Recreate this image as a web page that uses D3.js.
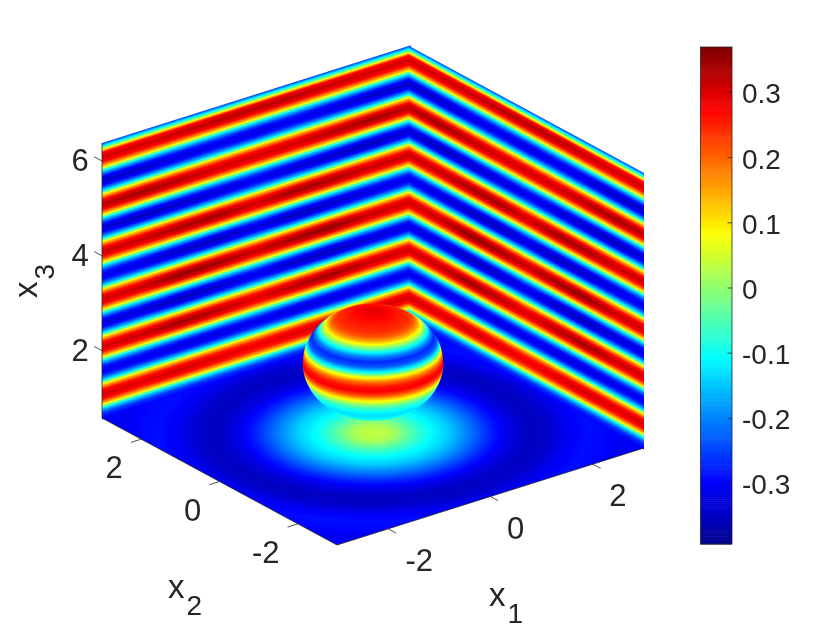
<!DOCTYPE html>
<html>
<head>
<meta charset="utf-8">
<script src="https://cdn.jsdelivr.net/npm/d3@7"></script>
<style>
  html, body { margin: 0; background: #fff; }
  #plot { position: relative; width: 840px; height: 630px; overflow: hidden; }
  #plot canvas, #plot svg { position: absolute; left: 0; top: 0; }
  text { font-family: "Liberation Sans", Arial, sans-serif; fill: #262626; }
</style>
</head>
<body>
<div id="plot"></div>
<script>
const WIDTH = 840, HEIGHT = 630

// axis limits and ticks
const x1Domain = [-3, 3]
const x2Domain = [-3, 3]
const x3Domain = [0.58, 6.38]
const x1Ticks = [-2, 0, 2]
const x2Ticks = [-2, 0, 2]
const x3Ticks = [2, 4, 6]
const colorTicks = [-0.3, -0.2, -0.1, 0, 0.1, 0.2, 0.3]
const colorDomain = [-0.3936, 0.369]
const jetStops = [0, 0.125, 0.375, 0.625, 0.875, 1]
const jetColors = ['#00008f', '#0000ff', '#00ffff', '#ffff00', '#ff0000', '#800000']

// wall field: both walls look the same and mirror around the middle
const wallS = [0, 0.75, 1.5, 2.25, 3]
const wallX3Step = 0.1
const wallField = [
  [-.30, -.30, -.30, -.30, -.30],
  [-.26, -.26, -.26, -.26, -.26],
  [-.14, -.14, -.14, -.14, -.14],
  [.12, .12, .12, .12, .12],
  [.25, .26, .27, .26, .27],
  [.29, .30, .31, .30, .31],
  [.25, .26, .27, .26, .27],
  [.12, .12, .12, .12, .12],
  [-.14, -.14, -.14, -.14, -.14],
  [-.27, -.28, -.28, -.27, -.27],
  [-.32, -.33, -.33, -.32, -.32],
  [-.27, -.28, -.28, -.27, -.27],
  [-.14, -.14, -.14, -.14, -.14],
  [.12, .12, .12, .12, .12],
  [.26, .28, .29, .27, .27],
  [.30, .33, .35, .32, .31],
  [.26, .28, .29, .27, .27],
  [.12, .12, .12, .12, .12],
  [-.14, -.14, -.14, -.14, -.14],
  [-.27, -.29, -.30, -.28, -.28],
  [-.32, -.35, -.36, -.34, -.33],
  [-.27, -.29, -.30, -.28, -.28],
  [-.14, -.14, -.14, -.14, -.14],
  [.12, .12, .12, .12, .12],
  [.27, .29, .30, .27, .27],
  [.32, .35, .36, .32, .31],
  [.27, .29, .30, .27, .27],
  [.12, .12, .12, .12, .12],
  [-.14, -.14, -.14, -.14, -.14],
  [-.28, -.30, -.29, -.28, -.27],
  [-.33, -.36, -.35, -.33, -.32],
  [-.28, -.30, -.29, -.28, -.27],
  [-.14, -.14, -.14, -.14, -.14],
  [.12, .12, .12, .12, .12],
  [.27, .29, .29, .27, .27],
  [.31, .35, .34, .32, .32],
  [.27, .29, .29, .27, .27],
  [.12, .12, .12, .12, .12],
  [-.14, -.14, -.14, -.14, -.14],
  [-.27, -.28, -.29, -.30, -.28],
  [-.32, -.34, -.35, -.36, -.34],
  [-.27, -.28, -.29, -.30, -.28],
  [-.14, -.14, -.14, -.14, -.14],
  [.12, .12, .12, .12, .12],
  [.27, .27, .28, .29, .28],
  [.31, .31, .33, .35, .33],
  [.27, .27, .28, .29, .28],
  [.12, .12, .12, .12, .12],
  [-.14, -.14, -.14, -.14, -.14],
  [-.28, -.27, -.28, -.29, -.29],
  [-.33, -.32, -.33, -.35, -.35],
  [-.28, -.27, -.28, -.29, -.29],
  [-.14, -.14, -.14, -.14, -.14],
  [.12, .12, .12, .12, .12],
  [.28, .28, .27, .27, .27],
  [.33, .33, .32, .31, .31],
  [.28, .28, .27, .27, .27],
  [-.03, -.03, -.03, -.03, -.03],
  [-.26, -.26, -.26, -.26, -.26]
]

// floor field against distance from the axis
const floorRadius = [0, 0.3, 0.6, 0.85, 1.2, 1.5, 1.8, 2.1, 2.4, 2.7, 3.0, 3.3, 3.6, 3.9, 4.25]
const floorField = [.04, .02, -.05, -.10, -.15, -.21, -.27, -.32, -.35, -.345, -.31, -.29, -.295, -.31, -.30]

// sphere field against latitude
const sphereLat = [-90, -85, -80, -75, -70, -65, -60, -55, -50, -45, -40, -35, -30, -25, -20, -15, -10, -5, 0,
  5, 10, 15, 20, 25, 30, 35, 40, 45, 50, 55, 60, 65, 70, 75, 80, 85, 90]
const sphereField = [.08, .08, .08, .08, .08, .08, .07, .04, -.04, -.09, -.12, -.13, -.12, -.09, -.05, .02, .11, .21, .28,
  .26, .19, .07, -.11, -.23, -.27, -.20, -.09, .03, .14, .21, .24, .25, .26, .27, .28, .29, .29]
const sphereCenter = [0, 0, 2.06]
const sphereRadius = 1.09

// projection of the data box to the page, front lower corner is the origin
const ORIGIN = [337, 545]
const x1ToX = d3.scaleLinear().domain(x1Domain).range([0, 307])
const x1ToY = d3.scaleLinear().domain(x1Domain).range([0, -97])
const x2ToX = d3.scaleLinear().domain(x2Domain).range([0, -235])
const x2ToY = d3.scaleLinear().domain(x2Domain).range([0, -127])
const x3ToY = d3.scaleLinear().domain(x3Domain).range([0, -275])

const project = (a, b, c) => [
  ORIGIN[0] + x1ToX(a) + x2ToX(b),
  ORIGIN[1] + x1ToY(a) + x2ToY(b) + x3ToY(c)
]

const jetValue = d3.scaleLinear().domain([0, 1]).range(colorDomain)
const jet = d3.scaleLinear().domain(jetStops.map(jetValue)).range(jetColors).clamp(true)

// lookup table so the per pixel painting stays fast
const LUT_SIZE = 2048
const lut = d3.range(LUT_SIZE).map(i => d3.rgb(jet(jetValue(i / (LUT_SIZE - 1)))))
const lutIndex = d3.scaleLinear().domain(colorDomain).range([0, LUT_SIZE - 1]).clamp(true)

const root = d3.select('#plot')
const canvas = root.append('canvas').attr('width', WIDTH).attr('height', HEIGHT).node()
const ctx = canvas.getContext('2d')
const layer = document.createElement('canvas')
layer.width = WIDTH
layer.height = HEIGHT
const layerCtx = layer.getContext('2d')

function paint(outline, valueAt) {
  const xs = outline.map(p => p[0]), ys = outline.map(p => p[1])
  const x0 = Math.floor(d3.min(xs)) - 1, x1 = Math.ceil(d3.max(xs)) + 1
  const y0 = Math.floor(d3.min(ys)) - 1, y1 = Math.ceil(d3.max(ys)) + 1
  const img = layerCtx.createImageData(x1 - x0, y1 - y0)
  let k = 0
  for (let y = y0; y < y1; y++) {
    for (let x = x0; x < x1; x++) {
      const c = lut[Math.round(lutIndex(valueAt(x + 0.5, y + 0.5)))]
      img.data[k++] = c.r
      img.data[k++] = c.g
      img.data[k++] = c.b
      img.data[k++] = 255
    }
  }
  layerCtx.clearRect(0, 0, WIDTH, HEIGHT)
  layerCtx.putImageData(img, x0, y0)
  ctx.save()
  ctx.beginPath()
  outline.forEach((p, i) => i ? ctx.lineTo(p[0], p[1]) : ctx.moveTo(p[0], p[1]))
  ctx.closePath()
  ctx.clip()
  ctx.drawImage(layer, 0, 0)
  ctx.restore()
}

const sIndex = d3.scaleLinear().domain(wallS).range(wallS.map((_, i) => i)).clamp(true)

function wallValue(s, c) {
  const rowPos = Math.max(0, Math.min(wallField.length - 1, (c - x3Domain[0]) / wallX3Step))
  const colPos = sIndex(Math.abs(s))
  const r0 = Math.min(Math.floor(rowPos), wallField.length - 2), c0 = Math.min(Math.floor(colPos), wallS.length - 2)
  const fr = rowPos - r0, fc = colPos - c0
  const lo = wallField[r0][c0] * (1 - fc) + wallField[r0][c0 + 1] * fc
  const hi = wallField[r0 + 1][c0] * (1 - fc) + wallField[r0 + 1][c0 + 1] * fc
  return lo * (1 - fr) + hi * fr
}

// ── left wall, x2 = 3 ────────────────────────────────────────
paint(
  [project(-3, 3, x3Domain[0] - 0.03), project(3.04, 3, x3Domain[0] - 0.03), project(3.04, 3, x3Domain[1]), project(-3, 3, x3Domain[1])],
  (x, y) => {
    const a = x1ToX.invert(x - ORIGIN[0] - x2ToX(3))
    const c = x3ToY.invert(y - ORIGIN[1] - x1ToY(a) - x2ToY(3))
    return wallValue(a, c)
  }
)

// ── right wall, x1 = 3 ───────────────────────────────────────
paint(
  [project(3, 3, x3Domain[0] - 0.03), project(3, -3, x3Domain[0] - 0.03), project(3, -3, x3Domain[1]), project(3, 3, x3Domain[1])],
  (x, y) => {
    const b = x2ToX.invert(x - ORIGIN[0] - x1ToX(3))
    const c = x3ToY.invert(y - ORIGIN[1] - x2ToY(b) - x1ToY(3))
    return wallValue(b, c)
  }
)

// ── floor ────────────────────────────────────────────────────
const floorScale = d3.scaleLinear().domain(floorRadius).range(floorField).clamp(true)
const mx = [x1ToX(1) - x1ToX(0), x2ToX(1) - x2ToX(0)]
const my = [x1ToY(1) - x1ToY(0), x2ToY(1) - x2ToY(0)]
const floorDet = mx[0] * my[1] - mx[1] * my[0]
const floorMid = project(0, 0, x3Domain[0])
paint(
  [project(-3, -3, x3Domain[0]), project(3, -3, x3Domain[0]), project(3, 3, x3Domain[0]), project(-3, 3, x3Domain[0])],
  (x, y) => {
    const dx = x - floorMid[0], dy = y - floorMid[1]
    const a = (my[1] * dx - mx[1] * dy) / floorDet
    const b = (mx[0] * dy - my[0] * dx) / floorDet
    return floorScale(Math.hypot(a, b))
  }
)

// ── sphere ───────────────────────────────────────────────────
const latScale = d3.scaleLinear().domain(sphereLat).range(sphereField).clamp(true)
const r1 = [mx[0], mx[1], 0]
const r2 = [my[0], my[1], x3ToY(x3Domain[0] + 1) - x3ToY(x3Domain[0])]
const viewRaw = [r1[1] * r2[2] - r1[2] * r2[1], r1[2] * r2[0] - r1[0] * r2[2], r1[0] * r2[1] - r1[1] * r2[0]]
const viewSign = viewRaw[2] > 0 ? 1 : -1
const viewLen = Math.hypot(...viewRaw) * viewSign
const view = viewRaw.map(v => v / viewLen)
const q11 = d3.sum(r1, v => v * v), q22 = d3.sum(r2, v => v * v), q12 = d3.sum(r1.map((v, i) => v * r2[i]))
const qDet = q11 * q22 - q12 * q12
const sphereMid = project(...sphereCenter)

function surfacePoint(x, y) {
  const dx = x - sphereMid[0], dy = y - sphereMid[1]
  const w1 = (q22 * dx - q12 * dy) / qDet, w2 = (q11 * dy - q12 * dx) / qDet
  return r1.map((v, i) => (v * w1 + r2[i] * w2) / sphereRadius)
}

// outline of the sphere is an ellipse, walk around it for the clip path
const halfW = Math.sqrt(q11) * sphereRadius
const sphereOutline = d3.range(0, 360, 2).map(t => {
  const rad = t * Math.PI / 180
  return [
    sphereMid[0] + halfW * Math.cos(rad),
    sphereMid[1] + (q12 / Math.sqrt(q11)) * sphereRadius * Math.cos(rad) + Math.sqrt(qDet / q11) * sphereRadius * Math.sin(rad)
  ]
})
paint(sphereOutline, (x, y) => {
  const u = surfacePoint(x, y)
  const len2 = d3.sum(u, v => v * v)
  const t = Math.sqrt(Math.max(0, 1 - len2))
  const lat = Math.asin(Math.max(-1, Math.min(1, u[2] + t * view[2]))) * 180 / Math.PI
  return latScale(lat)
})

// ── axes, labels, colorbar ───────────────────────────────────
const svg = root.append('svg').attr('width', WIDTH).attr('height', HEIGHT)
const lineOf = d3.line()

const boxEdges = [
  [project(-3, 3, x3Domain[0]), project(-3, 3, x3Domain[1])],
  [project(-3, 3, x3Domain[0]), project(-3, -3, x3Domain[0])],
  [project(-3, -3, x3Domain[0]), project(3, -3, x3Domain[0])]
]
svg.append('g').selectAll('path').data(boxEdges).join('path')
  .attr('d', lineOf)
  .attr('fill', 'none')
  .attr('stroke', '#262626')
  .attr('stroke-width', 0.8)

const TICK = 0.2
const tickLines = [
  ...x1Ticks.map(t => [project(t, -3, x3Domain[0]), project(t, -3 - TICK, x3Domain[0])]),
  ...x2Ticks.map(t => [project(-3, t, x3Domain[0]), project(-3 - TICK, t, x3Domain[0])]),
  ...x3Ticks.map(t => [project(-3, 3, t), project(-3, 3 + TICK, t)])
]
svg.append('g').selectAll('path').data(tickLines).join('path')
  .attr('d', lineOf)
  .attr('fill', 'none')
  .attr('stroke', '#262626')
  .attr('stroke-width', 0.8)

const tickLabels = [
  ...x1Ticks.map(t => ({ t, p: project(t, -3, x3Domain[0]), dx: t < 0 ? 31 : 25, dy: 31 })),
  ...x2Ticks.map(t => ({ t, p: project(-3, t, x3Domain[0]), dx: t < 0 ? -32 : -27, dy: 28 })),
  ...x3Ticks.map(t => ({ t, p: project(-3, 3, t), dx: -22, dy: -1 }))
]
svg.append('g').selectAll('text').data(tickLabels).join('text')
  .attr('x', d => d.p[0] + d.dx)
  .attr('y', d => d.p[1] + d.dy)
  .attr('dy', '0.36em')
  .attr('text-anchor', 'middle')
  .style('font-size', '31px')
  .text(d => String(d.t))

function axisLabel(sub, x, y, rotate) {
  const t = svg.append('text')
    .attr('transform', `translate(${x},${y}) rotate(${rotate})`)
    .style('font-size', '33px')
  t.append('tspan').text('x')
  t.append('tspan').attr('dy', 17).attr('dx', 2).style('font-size', '28px').text(sub)
}
axisLabel('1', 489, 606, 0)
axisLabel('2', 168, 598, 0)
axisLabel('3', 37, 298, -90)

const colorY = d3.scaleLinear().domain(colorDomain).range([544, 47])
const colorBar = svg.append('g')
colorBar.selectAll('rect').data(d3.range(256)).join('rect')
  .attr('x', 700.5)
  .attr('width', 31.5)
  .attr('y', i => colorY(jetValue((i + 1) / 256)))
  .attr('height', i => colorY(jetValue(i / 256)) - colorY(jetValue((i + 1) / 256)) + 0.5)
  .attr('fill', i => jet(jetValue((i + 0.5) / 256)))
svg.append('rect')
  .attr('x', 700.5).attr('y', 47)
  .attr('width', 31.5).attr('height', 497)
  .attr('fill', 'none').attr('stroke', '#262626').attr('stroke-width', 0.8)

const colorAxis = svg.append('g')
  .attr('transform', 'translate(732,0)')
  .call(d3.axisRight(colorY).tickValues(colorTicks).tickSize(-4.5).tickSizeOuter(0).tickPadding(10).tickFormat(d => String(d)))
colorAxis.select('.domain').remove()
colorAxis.selectAll('.tick line').attr('stroke', '#262626').attr('stroke-width', 0.8)
colorAxis.selectAll('.tick text')
  .attr('fill', '#262626')
  .attr('dy', '0.39em')
  .style('font-family', '"Liberation Sans", Arial, sans-serif')
  .style('font-size', '28px')
</script>
</body>
</html>
